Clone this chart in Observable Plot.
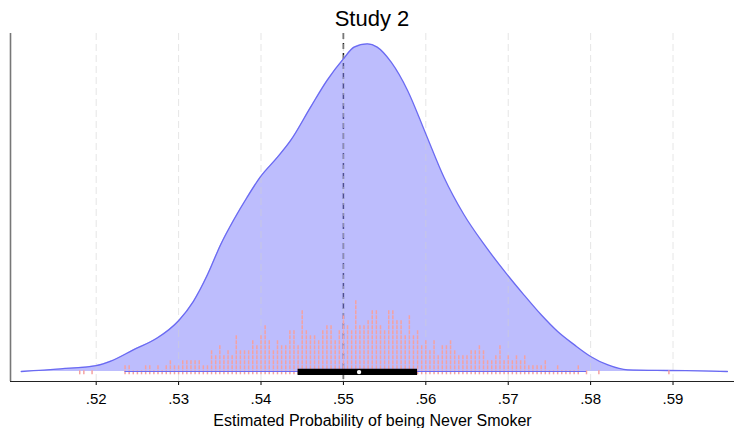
<!DOCTYPE html>
<html>
<head>
<meta charset="utf-8">
<script src="https://cdn.jsdelivr.net/npm/d3@7"></script>
<script src="https://cdn.jsdelivr.net/npm/@observablehq/plot@0.6"></script>
<style>
  body { margin: 0; background: #fff; font-family: "Liberation Sans", Arial, Helvetica, sans-serif; }
  #title { height: 33px; line-height: 38px; font-size: 22px; text-align: center; padding-left: 10px; color: #000; }
  svg { display: block; overflow: visible; }
</style>
</head>
<body>
<div id="title">Study 2</div>
<div id="chart"></div>
<script>
// Axis ticks
const tickValues = [0.52, 0.53, 0.54, 0.55, 0.56, 0.57, 0.58, 0.59];
const axisLabel = "Estimated Probability of being Never Smoker";

// Reference line
const referenceValue = 0.55;

// Kernel density of the estimates (relative height, peak = 1)
const densityX = [0.5109, 0.5157, 0.5200, 0.5217, 0.5245, 0.5274, 0.5300, 0.5318, 0.5335, 0.5351,
                  0.5367, 0.5383, 0.5399, 0.5420, 0.5436, 0.5460, 0.5480, 0.5500, 0.5513, 0.5529,
                  0.5541, 0.5558, 0.5578, 0.5600, 0.5622, 0.5646, 0.5671, 0.5699, 0.5719, 0.5740,
                  0.5760, 0.5780, 0.5800, 0.5821, 0.5845, 0.5893, 0.5930, 0.5966];
const densityY = [0.000, 0.008, 0.018, 0.031, 0.066, 0.102, 0.155, 0.214, 0.295, 0.387,
                  0.463, 0.531, 0.593, 0.654, 0.705, 0.806, 0.888, 0.954, 0.990, 1.000,
                  0.990, 0.944, 0.857, 0.725, 0.593, 0.480, 0.387, 0.295, 0.234, 0.173,
                  0.122, 0.082, 0.046, 0.020, 0.005, 0.003, 0.002, 0.000];

// Box summary
const q1 = 0.5445, median = 0.5519, q3 = 0.5590;
const whiskerLo = 0.5235, whiskerHi = 0.5795;

// Distinct estimate values and how many draws fell on each
const stackValues = [
  0.5180, 0.5185, 0.5195,
  0.5235, 0.5240, 0.5245, 0.5250, 0.5255, 0.5260, 0.5265, 0.5270, 0.5275, 0.5280,
  0.5285, 0.5290, 0.5295, 0.5300, 0.5305, 0.5310, 0.5315, 0.5320, 0.5325, 0.5330,
  0.5335, 0.5340, 0.5345, 0.5350, 0.5355, 0.5360, 0.5365, 0.5370, 0.5375, 0.5380,
  0.5385, 0.5390, 0.5395, 0.5400, 0.5405, 0.5410, 0.5415, 0.5420, 0.5425, 0.5430,
  0.5435, 0.5440, 0.5445, 0.5450, 0.5455, 0.5460, 0.5465, 0.5470, 0.5475, 0.5480,
  0.5485, 0.5490, 0.5495, 0.5500, 0.5505, 0.5510, 0.5515, 0.5520, 0.5525, 0.5530,
  0.5535, 0.5540, 0.5545, 0.5550, 0.5555, 0.5560, 0.5565, 0.5570, 0.5575, 0.5580,
  0.5585, 0.5590, 0.5595, 0.5600, 0.5605, 0.5610, 0.5615, 0.5620, 0.5625, 0.5630,
  0.5635, 0.5640, 0.5645, 0.5650, 0.5655, 0.5660, 0.5665, 0.5670, 0.5675, 0.5680,
  0.5685, 0.5690, 0.5695, 0.5700, 0.5705, 0.5710, 0.5715, 0.5720, 0.5725, 0.5730,
  0.5735, 0.5740, 0.5745, 0.5750, 0.5755, 0.5760, 0.5765, 0.5770, 0.5775, 0.5780,
  0.5785, 0.5795, 0.5810, 0.5895
];
const stackCounts = [
  1, 1, 1,
  2, 2, 1, 1, 1, 2, 2, 1, 2, 1,
  2, 3, 2, 2, 3, 3, 3, 3, 3, 2,
  2, 5, 4, 6, 4, 5, 4, 8, 5, 5,
  5, 7, 6, 8, 10, 7, 5, 7, 6, 6,
  9, 9, 6, 13, 9, 8, 8, 7, 9, 10,
  10, 7, 9, 12, 10, 9, 15, 10, 10, 11,
  13, 13, 10, 9, 13, 13, 11, 11, 8, 12,
  8, 9, 6, 7, 5, 7, 4, 6, 6, 7,
  5, 4, 4, 4, 5, 5, 6, 5, 3, 3,
  4, 6, 3, 4, 3, 4, 3, 4, 2, 2,
  2, 2, 3, 1, 1, 2, 1, 1, 1, 1,
  2, 1, 1, 1
];

// y runs in density units; one pixel of height is 1/327.4 of the peak
const px = 1 / 327.4;
const yDomain = [-0.0305, 1.0315];
const xDomain = [0.5096, 0.59746];
const markBase = -3.3 * px, markStep = 5 * px, markLen = 4 * px;

const density = densityX.map((x, i) => ({x, y: densityY[i]}));

// one short vertical mark per draw, stacked over its value
const marksData = [];
stackValues.forEach((v, i) => {
  for (let j = 0; j < stackCounts[i]; ++j) {
    const y1 = markBase + j * markStep;
    marksData.push({x: v, y1, y2: y1 + markLen});
  }
});

const font = '"Liberation Sans", Arial, Helvetica, sans-serif';
const blue = "#6a6af2";

const chart = Plot.plot({
  width: 734,
  height: 395,
  marginTop: 0,
  marginRight: 0,
  marginBottom: 47,
  marginLeft: 10,
  style: {fontFamily: font, fontSize: "15px", color: "#000", background: "#fff", overflow: "visible"},
  x: {
    domain: xDomain,
    ticks: tickValues,
    tickFormat: d => d3.format(".2f")(d).replace(/^0/, ""),
    tickSize: 4,
    tickPadding: 8,
    label: null
  },
  y: {domain: yDomain, axis: null},
  marks: [
    Plot.ruleX([referenceValue], {stroke: "#222", strokeWidth: 1.5, strokeDasharray: "6,4"}),
    Plot.areaY(density, {x: "x", y: "y", fill: "#7b7bfb", fillOpacity: 0.5, curve: "monotone-x"}),
    Plot.ruleX(tickValues, {stroke: "#d0d0d0", strokeOpacity: 0.55, strokeDasharray: "7,4"}),
    Plot.lineY(density, {x: "x", y: "y", stroke: blue, strokeWidth: 1.3, curve: "monotone-x"}),
    Plot.ruleX(marksData, {x: "x", y1: "y1", y2: "y2", stroke: "#f4a2a2", strokeWidth: 1.5}),
    Plot.ruleY([{lo: whiskerLo, hi: whiskerHi, y: 0}], {x1: "lo", x2: "hi", y: "y", stroke: blue, strokeWidth: 1.2}),
    Plot.ruleY([{lo: q1, hi: q3, y: 0}], {x1: "lo", x2: "hi", y: "y", stroke: "#000", strokeWidth: 6.3, dy: 0.4}),
    Plot.dot([{x: median, y: 0}], {x: "x", y: "y", r: 2.2, fill: "#fff", stroke: null, dy: 0.6}),
    Plot.ruleX([xDomain[0]], {stroke: "#777", strokeWidth: 1.6}),
    Plot.ruleY([yDomain[0]], {stroke: "#222", strokeWidth: 1}),
    Plot.text([axisLabel], {frameAnchor: "bottom", dy: 39, lineAnchor: "middle", fontSize: 16, fill: "#000"})
  ]
});

document.getElementById("chart").appendChild(chart);
</script>
</body>
</html>
